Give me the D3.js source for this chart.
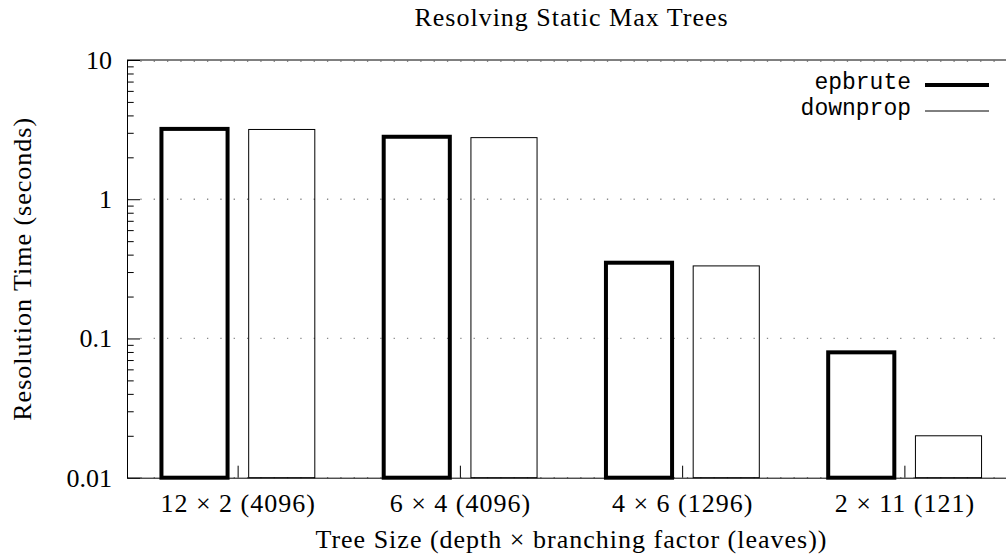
<!DOCTYPE html>
<html>
<head>
<meta charset="utf-8">
<script src="https://cdn.jsdelivr.net/npm/d3@7"></script>
<style>
  html, body { margin: 0; padding: 0; background: #fff; }
  text { font-family: "Liberation Serif", "DejaVu Serif", serif; fill: #000; }
  text.mono { font-family: "Liberation Mono", "DejaVu Sans Mono", monospace; }
</style>
</head>
<body>
<div id="chart"></div>
<script>
// 数据
const categories = ['12 × 2 (4096)', '6 × 4 (4096)', '4 × 6 (1296)', '2 × 11 (121)'];
const series = ['epbrute', 'downprop'];
const epbrute = [3.2, 2.81, 0.35, 0.0795];
const downprop = [3.17, 2.77, 0.332, 0.02];
const yTicks = [0.01, 0.1, 1, 10];
const yTickLabels = ['0.01', '0.1', '1', '10'];

let width = 1006;
let height = 554;

let margin = {
  top: 60,
  right: -10,   // 右边框在画面外
  bottom: 76.3,
  left: 127
};

let serif = '"Liberation Serif", "DejaVu Serif", serif';

let values = { epbrute: epbrute, downprop: downprop };
let strokeW = { epbrute: 4, downprop: 1 };

let data = categories.map((c, i) => ({
  cat: c,
  bars: series.map(s => ({ key: s, value: values[s][i] }))
}));

// 分组比例尺
let x0 = d3.scaleBand()
  .domain(categories)
  .range([margin.left, width - margin.right])
  .paddingInner(0.31)
  .paddingOuter(0.155);

let x1 = d3.scaleBand()
  .domain(series)
  .range([0, x0.bandwidth()])
  .paddingInner(0.242);

// 对数比例尺
let y = d3.scaleLog()
  .domain([0.01, 10])
  .range([height - margin.bottom, margin.top]);

let minorTicks = [];
for (let d = 0.01; d < 10; d *= 10) {
  for (let k = 2; k <= 9; k++) minorTicks.push(+(d * k).toPrecision(3));
}

const svg = d3.select('#chart').append('svg')
  .attr('width', width)
  .attr('height', height)
  .style('display', 'block');

// 网格线 (点线)
svg.append('g')
  .selectAll('line')
  .data(yTicks)
  .join('line')
  .attr('x1', margin.left)
  .attr('x2', width - margin.right)
  .attr('y1', d => y(d) + (d === 10 ? 1.3 : 0))
  .attr('y2', d => y(d) + (d === 10 ? 1.3 : 0))
  .attr('stroke', '#8a8a8a')
  .attr('stroke-width', 1.3)
  .attr('stroke-dasharray', '1.3,12.03');

// 柱子
svg.append('g')
  .selectAll('g')
  .data(data)
  .join('g')
  .attr('transform', d => `translate(${x0(d.cat)},0)`)
  .selectAll('rect')
  .data(d => d.bars)
  .join('rect')
  .attr('x', d => x1(d.key))
  .attr('y', d => y(d.value))
  .attr('width', x1.bandwidth())
  .attr('height', d => y(0.01) - y(d.value))
  .attr('fill', 'none')
  .attr('stroke', '#000')
  .attr('stroke-width', d => strokeW[d.key]);

// x轴
let xAxis = g => g
  .attr('transform', `translate(0, ${height - margin.bottom})`)
  .call(d3.axisBottom(x0).tickSizeInner(-12).tickSizeOuter(0).tickPadding(16))
  .call(g => g.selectAll('text')
    .attr('font-family', serif)
    .attr('font-size', 26)
    .attr('letter-spacing', '1px'));

svg.append('g').call(xAxis);

// y轴
let yAxis = g => g
  .attr('transform', `translate(${margin.left}, 0)`)
  .call(d3.axisLeft(y).tickValues(yTicks).tickFormat((d, i) => yTickLabels[i])
    .tickSizeInner(-13).tickSizeOuter(0).tickPadding(15))
  .call(g => g.selectAll('text')
    .attr('font-family', serif)
    .attr('font-size', 26));

svg.append('g').call(yAxis);

// 次刻度
svg.append('g')
  .attr('transform', `translate(${margin.left}, 0)`)
  .call(d3.axisLeft(y).tickValues(minorTicks).tickFormat('').tickSizeInner(-6.7).tickSizeOuter(0))
  .call(g => g.select('.domain').remove());

// 上边框
svg.append('line')
  .attr('x1', margin.left)
  .attr('x2', width - margin.right)
  .attr('y1', margin.top)
  .attr('y2', margin.top)
  .attr('stroke', '#000');

// 标题和坐标轴标签
let plotCx = (margin.left + width - margin.right) / 2;
let plotCy = (margin.top + height - margin.bottom) / 2;

svg.append('text')
  .attr('x', plotCx)
  .attr('y', 26)
  .attr('text-anchor', 'middle')
  .attr('font-family', serif)
  .attr('font-size', 26)
  .attr('letter-spacing', '1px')
  .text('Resolving Static Max Trees');

svg.append('text')
  .attr('x', plotCx)
  .attr('y', 548)
  .attr('text-anchor', 'middle')
  .attr('font-family', serif)
  .attr('font-size', 26)
  .attr('letter-spacing', '1px')
  .text('Tree Size (depth × branching factor (leaves))');

svg.append('text')
  .attr('transform', `translate(31, ${plotCy}) rotate(-90)`)
  .attr('text-anchor', 'middle')
  .attr('font-family', serif)
  .attr('font-size', 26)
  .attr('letter-spacing', '1px')
  .text('Resolution Time (seconds)');

// 图例
let legend = svg.append('g')
  .selectAll('g')
  .data(series)
  .join('g')
  .attr('transform', (d, i) => `translate(0, ${85 + i * 26})`);

legend.append('text')
  .attr('class', 'mono')
  .attr('x', 911)
  .attr('y', 4)
  .attr('text-anchor', 'end')
  .attr('font-size', 23)
  .text(d => d);

legend.append('line')
  .attr('x1', 925)
  .attr('x2', 989)
  .attr('stroke', '#000')
  .attr('stroke-width', d => strokeW[d]);
</script>
</body>
</html>
